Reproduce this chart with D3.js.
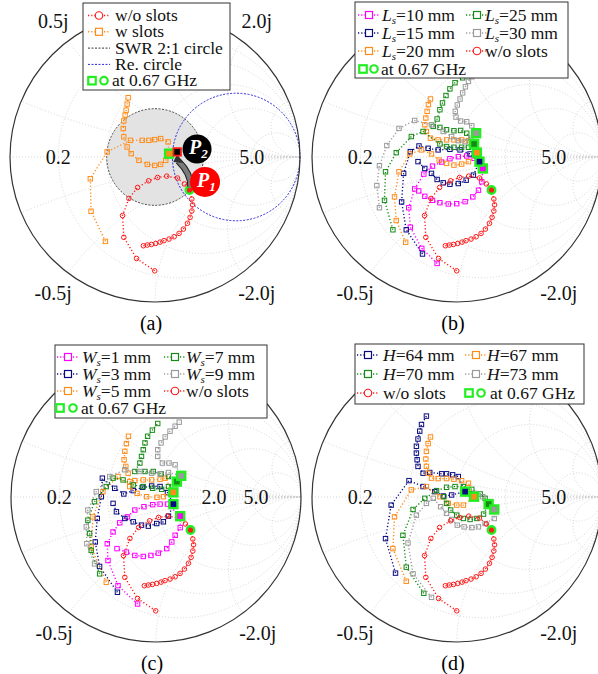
<!DOCTYPE html>
<html>
<head>
<meta charset="utf-8">
<script src="https://cdn.jsdelivr.net/npm/d3@7"></script>
<style>
  body { margin: 0; background: #fff; }
  svg { display: block; font-family: "Liberation Serif", "Times New Roman", serif; }
</style>
</head>
<body>
<div id="chart"></div>
<script>
// Reflection coefficient points [Re(G), Im(G)]
const wo = [[-0.080,-0.612],[-0.053,-0.607],[-0.025,-0.603],[0.005,-0.596],[0.035,-0.587],[0.062,-0.577],
  [0.097,-0.566],[0.132,-0.550],[0.166,-0.527],[0.196,-0.497],[0.224,-0.457],[0.242,-0.416],[0.254,-0.372],
  [0.259,-0.330],[0.254,-0.290],[0.238,-0.228],[0.203,-0.186],[0.155,-0.145],[0.081,-0.132],[0.018,-0.141],
  [-0.044,-0.164],[-0.120,-0.210],[-0.180,-0.286],[-0.224,-0.404],[-0.215,-0.554],[-0.127,-0.700],[-0.002,-0.785]];
const wSlots = [[-0.342,-0.582],[-0.441,-0.374],[-0.446,-0.150],[-0.330,0.035],[-0.169,0.115],[-0.088,0.115],
  [-0.042,0.115],[-0.002,0.120],[0.039,0.127],[0.090,0.104],[0.097,0.023],[0.074,-0.023],[0.039,-0.051],
  [-0.002,-0.058],[-0.053,-0.051],[-0.111,-0.023],[-0.164,0.023],[-0.192,0.069],[-0.215,0.139],[-0.219,0.196],
  [-0.215,0.249],[-0.206,0.289],[-0.199,0.323],[-0.192,0.365],[-0.185,0.409]];
const p2Point = [0.153, 0.035];

// (b) slot length
const ls10 = [[-0.137,-0.734],[-0.243,-0.630],[-0.322,-0.484],[-0.333,-0.350],[-0.292,-0.220],[-0.229,-0.118],
  [-0.169,-0.063],[-0.106,-0.035],[-0.049,-0.012],[0.009,0.002],[0.067,0.007],[0.118,-0.009],[0.178,-0.079],
  [0.171,-0.171],[0.148,-0.229],[0.109,-0.275],[0.056,-0.308],[-0.002,-0.322],[-0.060,-0.324],[-0.118,-0.315],
  [-0.169,-0.299],[-0.222,-0.271],[-0.264,-0.234]];
const ls15 = [[-0.238,-0.669],[-0.350,-0.502],[-0.382,-0.310],[-0.368,-0.113],[-0.322,0.037],[-0.262,0.076],
  [-0.199,0.060],[-0.130,0.049],[-0.049,0.053],[0.021,0.049],[0.090,0.021],[0.155,-0.032],[0.113,-0.125],
  [0.063,-0.160],[0.009,-0.183],[-0.049,-0.188],[-0.095,-0.178],[-0.137,-0.155],[-0.176,-0.113],[-0.222,-0.079],
  [-0.269,-0.032]];
const ls20 = [[-0.354,-0.588],[-0.419,-0.438],[-0.431,-0.275],[-0.400,-0.102],[-0.326,0.021],[-0.245,0.049],
  [-0.176,0.021],[-0.123,-0.021],[-0.072,-0.044],[-0.021,-0.056],[0.032,-0.049],[0.079,-0.032],[0.137,0.030],
  [0.079,0.113],[0.032,0.118],[-0.021,0.118],[-0.072,0.118],[-0.130,0.118],[-0.183,0.130],[-0.211,0.176],
  [-0.222,0.222],[-0.215,0.269],[-0.206,0.315],[-0.197,0.361],[-0.183,0.400]];
const ls25 = [[-0.442,-0.502],[-0.500,-0.299],[-0.493,-0.102],[-0.419,0.030],[-0.315,0.141],[-0.234,0.176],
  [-0.118,0.090],[-0.072,0.072],[-0.021,0.067],[0.032,0.067],[0.079,0.067],[0.118,0.090],[0.067,0.164],
  [0.025,0.183],[-0.021,0.181],[-0.072,0.188],[-0.118,0.204],[-0.164,0.211],[-0.137,0.262],[-0.118,0.326],
  [-0.100,0.373],[-0.076,0.424],[-0.049,0.470],[-0.014,0.512],[0.039,0.546]];
const ls30 = [[-0.535,-0.350],[-0.553,-0.197],[-0.535,-0.060],[-0.484,0.079],[-0.400,0.197],[-0.292,0.252],
  [-0.176,0.222],[-0.095,0.176],[-0.037,0.141],[0.009,0.113],[0.056,0.106],[0.095,0.130],[0.132,0.164],
  [0.102,0.215],[0.067,0.243],[0.025,0.248],[-0.007,0.275],[-0.012,0.315],[0.002,0.359],[0.021,0.400],
  [0.039,0.442],[0.058,0.484],[0.079,0.521],[0.102,0.553]];

// (c) slot width
const ws1 = [[-0.127,-0.738],[-0.262,-0.611],[-0.331,-0.438],[-0.336,-0.322],[-0.296,-0.241],[-0.250,-0.178],
  [-0.197,-0.137],[-0.146,-0.090],[-0.083,-0.067],[-0.023,-0.053],[0.028,-0.049],[0.079,-0.049],[0.167,-0.132],
  [0.167,-0.211],[0.132,-0.264],[0.109,-0.310],[0.074,-0.356],[0.016,-0.387],[-0.035,-0.403],[-0.088,-0.410],
  [-0.146,-0.403],[-0.204,-0.380],[-0.269,-0.356]];
const ws3 = [[-0.266,-0.657],[-0.389,-0.479],[-0.419,-0.310],[-0.405,-0.148],[-0.377,0.002],[-0.370,0.130],
  [-0.285,0.060],[-0.222,0.021],[-0.157,0.044],[-0.093,0.067],[-0.030,0.076],[0.028,0.072],[0.079,0.030],
  [0.120,-0.049],[0.086,-0.132],[0.051,-0.171],[0.005,-0.183],[-0.053,-0.201],[-0.100,-0.194],[-0.157,-0.171],
  [-0.215,-0.148],[-0.273,-0.102],[-0.296,-0.044]];
const ws5 = [[-0.343,-0.588],[-0.447,-0.345],[-0.435,-0.137],[-0.366,0.037],[-0.262,0.141],[-0.181,0.072],
  [-0.130,0.025],[-0.065,0.002],[0.007,-0.002],[0.051,0.002],[0.120,0.032],[0.063,0.130],[0.028,0.123],
  [-0.030,0.118],[-0.088,0.118],[-0.146,0.113],[-0.181,0.106],[-0.192,0.164],[-0.208,0.211],[-0.220,0.257],
  [-0.215,0.315],[-0.204,0.368],[-0.190,0.419]];
const ws7 = [[-0.389,-0.530],[-0.447,-0.368],[-0.458,-0.252],[-0.470,-0.160],[-0.424,-0.032],[-0.343,0.072],
  [-0.296,0.130],[-0.227,0.118],[-0.157,0.083],[-0.088,0.072],[-0.023,0.060],[0.039,0.053],[0.086,0.072],
  [0.144,0.106],[0.086,0.141],[0.035,0.160],[-0.019,0.176],[-0.076,0.176],[-0.146,0.176],[-0.111,0.234],
  [-0.100,0.280],[-0.088,0.326],[-0.076,0.373],[-0.058,0.419],[-0.025,0.461],[0.012,0.507]];
const ws9 = [[-0.424,-0.461],[-0.477,-0.322],[-0.481,-0.206],[-0.470,-0.090],[-0.412,0.037],[-0.319,0.141],
  [-0.215,0.188],[-0.111,0.176],[-0.030,0.164],[0.028,0.160],[0.086,0.169],[0.174,0.146],[0.132,0.222],
  [0.090,0.234],[0.044,0.234],[0.012,0.280],[0.012,0.326],[0.035,0.373],[0.063,0.414],[0.097,0.454],
  [0.132,0.488],[0.160,0.516]];

// (d) substrate height
const h64 = [[-0.424,-0.525],[-0.493,-0.287],[-0.454,-0.056],[-0.331,0.113],[-0.234,0.072],[-0.153,0.037],
  [-0.095,0.007],[-0.037,0.014],[0.056,0.037],[0.009,0.141],[-0.030,0.153],[-0.072,0.160],[-0.106,0.160],
  [-0.188,0.169],[-0.234,0.164],[-0.269,0.211],[-0.275,0.257],[-0.280,0.303],[-0.280,0.350],[-0.269,0.400],
  [-0.257,0.454],[-0.245,0.500],[-0.211,0.558]];
const h67 = [[-0.350,-0.581],[-0.442,-0.356],[-0.431,-0.137],[-0.315,0.049],[-0.211,0.072],[-0.118,0.002],
  [-0.060,-0.044],[-0.002,-0.056],[0.044,-0.056],[0.118,0.002],[0.079,0.095],[0.032,0.113],[-0.021,0.123],
  [-0.072,0.127],[-0.130,0.127],[-0.176,0.130],[-0.199,0.164],[-0.211,0.211],[-0.215,0.262],[-0.211,0.315],
  [-0.199,0.368],[-0.183,0.414]];
const h70 = [[-0.229,-0.664],[-0.350,-0.484],[-0.373,-0.264],[-0.303,-0.086],[-0.222,-0.009],[-0.141,0.044],
  [-0.072,0.067],[-0.014,0.072],[0.044,0.072],[0.102,0.053],[0.160,0.021],[0.194,-0.009],[0.218,-0.049],
  [0.183,-0.118],[0.137,-0.148],[0.090,-0.155],[0.044,-0.148],[-0.002,-0.125],[-0.044,-0.090],[-0.072,-0.044],
  [-0.090,0.002]];
const h73 = [[-0.176,-0.692],[-0.303,-0.530],[-0.338,-0.317],[-0.280,-0.125],[-0.211,-0.044],[-0.164,-0.009],
  [-0.113,-0.067],[-0.072,-0.113],[-0.037,-0.155],[0.002,-0.194],[0.049,-0.206],[0.102,-0.211],[0.148,-0.206],
  [0.194,-0.183],[0.257,-0.148],[0.257,-0.086],[0.225,-0.032],[0.178,0.002],[0.125,0.025]];

// index of the 0.67 GHz sample in each trace
const markAt = { wo: 15, wSlots: 10, ls10: 12, ls15: 11, ls20: 12, ls25: 11, ls30: 12,
  ws1: 12, ws3: 13, ws5: 10, ws7: 13, ws9: 11, h64: 8, h67: 9, h70: 12, h73: 15 };

const gridR = [0.2, 0.5, 1, 2, 5];
const gridX = [0.2, 0.5, 1, 2, 5];

const red = "#ff1a1a", orange = "#ff8c1a", magenta = "#ff00ff", navy = "#0a0a80",
      green = "#168a16", grey = "#9a9a9a", lime = "#22ee22";

const W = 598, H = 674, R = 145;
const svg = d3.select("#chart").append("svg").attr("width", W).attr("height", H);
const defs = svg.append("defs");

const panels = [
  { id: "a", cx: 155, cy: 157, tag: "(a)", top: true, realLabels: [["0.2", -0.667], ["5.0", 0.667]],
    series: [[wSlots, orange, "sq", markAt.wSlots], [wo, red, "ci", markAt.wo]] },
  { id: "b", cx: 457, cy: 157, tag: "(b)", top: false, realLabels: [["0.2", -0.667], ["5.0", 0.667]],
    series: [[ls10, magenta, "sq", markAt.ls10], [ls15, navy, "sq", markAt.ls15], [ls20, orange, "sq", markAt.ls20],
             [ls25, green, "sq", markAt.ls25], [ls30, grey, "sq", markAt.ls30], [wo, red, "ci", markAt.wo]] },
  { id: "c", cx: 156, cy: 497, tag: "(c)", top: false, realLabels: [["0.2", -0.667], ["2.0", 0.4], ["5.0", 0.69]],
    series: [[ws1, magenta, "sq", markAt.ws1], [ws3, navy, "sq", markAt.ws3], [ws5, orange, "sq", markAt.ws5],
             [ws7, green, "sq", markAt.ws7], [ws9, grey, "sq", markAt.ws9], [wo, red, "ci", markAt.wo]] },
  { id: "d", cx: 457, cy: 497, tag: "(d)", top: false, realLabels: [["0.2", -0.667], ["5.0", 0.667]],
    series: [[h64, navy, "sq", markAt.h64], [h67, orange, "sq", markAt.h67], [h70, green, "sq", markAt.h70],
             [h73, grey, "sq", markAt.h73], [wo, red, "ci", markAt.wo]] }
];

function marker(g, px, py, color, shape, size, fill, sw) {
  if (shape === "sq") {
    return g.append("rect").attr("x", px - size / 2).attr("y", py - size / 2)
      .attr("width", size).attr("height", size)
      .attr("fill", fill || "none").attr("stroke", color).attr("stroke-width", sw || 1);
  }
  return g.append("circle").attr("cx", px).attr("cy", py).attr("r", size / 2)
    .attr("fill", fill || "none").attr("stroke", color).attr("stroke-width", sw || 1);
}

panels.forEach(p => {
  const x = d3.scaleLinear().domain([-1, 1]).range([p.cx - R, p.cx + R]);
  const y = d3.scaleLinear().domain([-1, 1]).range([p.cy + R, p.cy - R]);
  const rad = v => x(v) - x(0);
  const g = svg.append("g");

  defs.append("clipPath").attr("id", "clip-" + p.id)
    .append("circle").attr("cx", x(0)).attr("cy", y(0)).attr("r", R);

  // Smith grid
  const grid = g.append("g").attr("clip-path", `url(#clip-${p.id})`)
    .attr("fill", "none").attr("stroke", "#cccccc").attr("stroke-width", 0.8).attr("stroke-dasharray", "1,2");
  gridR.forEach(r => grid.append("circle").attr("cx", x(r / (1 + r))).attr("cy", y(0)).attr("r", rad(1 / (1 + r))));
  gridX.forEach(v => [1, -1].forEach(s =>
    grid.append("circle").attr("cx", x(1)).attr("cy", y(s / v)).attr("r", rad(1 / v))));
  grid.append("line").attr("x1", x(-1)).attr("x2", x(1)).attr("y1", y(0)).attr("y2", y(0));

  if (p.id === "a") {
    g.append("circle").attr("cx", x(0)).attr("cy", y(0)).attr("r", rad(1 / 3))
      .attr("fill", "#e3e3e3").attr("stroke", "#444").attr("stroke-width", 1).attr("stroke-dasharray", "2,1.5");
    g.append("circle").attr("cx", x(0.56)).attr("cy", y(0)).attr("r", rad(0.44))
      .attr("fill", "none").attr("stroke", "#2b2bdd").attr("stroke-width", 1).attr("stroke-dasharray", "2,1.5");
  }

  // outer circle
  g.append("circle").attr("cx", x(0)).attr("cy", y(0)).attr("r", R)
    .attr("fill", "none").attr("stroke", "#333").attr("stroke-width", 1.2);

  const line = d3.line().x(d => x(d[0])).y(d => y(d[1]));
  p.series.forEach(([pts, color, shape]) => {
    g.append("path").datum(pts).attr("d", line).attr("fill", "none")
      .attr("stroke", color).attr("stroke-width", 1.4).attr("stroke-dasharray", "1.2,2.2");
    pts.forEach(d => marker(g, x(d[0]), y(d[1]), color, shape, shape === "sq" ? 4.4 : 4.6));
  });

  // 0.67 GHz highlights
  p.series.forEach(([pts, color, shape, k]) => {
    const d = pts[k];
    marker(g, x(d[0]), y(d[1]), lime, shape, shape === "sq" ? 8 : 7.5, color, 2.4);
  });

  if (p.id === "a") {
    const s = wo[markAt.wo], e = p2Point;
    const x1 = x(s[0]) + 1, y1 = y(s[1]) - 3, x2 = x(e[0]) + 1, y2 = y(e[1]) + 9;
    const path = `M${x1},${y1} Q${(x1 + x2) / 2 + 7},${(y1 + y2) / 2} ${x2},${y2}`;
    g.append("path").attr("d", path).attr("fill", "none").attr("stroke", "#222").attr("stroke-width", 6.5);
    g.append("path").attr("d", path).attr("fill", "none").attr("stroke", "#7a7a7a").attr("stroke-width", 4.5);
    g.append("path").attr("d", `M${x2 - 5},${y2 + 1} L${x2 + 5},${y2 + 2} L${x2 - 1},${y2 - 7} Z`)
      .attr("fill", "#333");
    marker(g, x(e[0]), y(e[1]), red, "sq", 7.5, "#000", 1.8);

    [["2", [0.29, 0.055], "#000", 14.5], ["1", [0.345, -0.172], "#ff0000", 15]].forEach(([n, c, col, r]) => {
      g.append("circle").attr("cx", x(c[0])).attr("cy", y(c[1])).attr("r", r).attr("fill", col);
      const t = g.append("text").attr("x", x(c[0]) - 8).attr("y", y(c[1]) + 5)
        .attr("fill", "#fff").attr("font-size", 20).attr("font-style", "italic").attr("font-weight", "bold");
      t.append("tspan").text("P");
      t.append("tspan").attr("font-size", 13).attr("dy", 4).text(n);
    });
  }

  // axis labels (the upper ones sit under the legend in b, c, d)
  const lab = g.append("g").attr("font-size", 20).attr("fill", "#111")
    .attr("text-anchor", "middle").attr("dominant-baseline", "central");
  const jLabels = [["-0.5j", -0.6, -0.8], ["-2.0j", 0.6, -0.8]];
  if (p.top) jLabels.push(["0.5j", -0.6, 0.8], ["2.0j", 0.6, 0.8]);
  jLabels.forEach(([t, gx, gy]) =>
    lab.append("text").attr("x", x(gx * 1.17)).attr("y", y(gy * 1.17)).text(t));
  p.realLabels.forEach(([t, gx]) => lab.append("text").attr("x", x(gx)).attr("y", y(0)).text(t));

  g.append("text").attr("x", p.cx - 4).attr("y", p.cy + R + 28).attr("text-anchor", "middle")
    .attr("font-size", 20).text(p.tag);
});

// legends
function rich(t, parts) {
  parts.forEach(([s, st]) => {
    const ts = t.append("tspan").text(s);
    if (st === "i") ts.attr("font-style", "italic");
    if (st === "sub") ts.attr("font-style", "italic").attr("font-size", 11).attr("dy", 3);
    if (st === "up") ts.attr("dy", -3);
  });
}

function legend(box, rows) {
  const g = svg.append("g");
  g.append("rect").attr("x", box[0]).attr("y", box[1]).attr("width", box[2] - box[0]).attr("height", box[3] - box[1])
    .attr("fill", "#fff").attr("stroke", "#333").attr("stroke-width", 1);
  rows.forEach(r => {
    if (r.type === "at") {
      marker(g, r.sq, r.y, lime, "sq", 7.5, "none", 2.2);
      marker(g, r.ci, r.y, lime, "ci", 7.5, "none", 2.2);
    } else {
      g.append("line").attr("x1", r.m - 11).attr("x2", r.m + 11).attr("y1", r.y).attr("y2", r.y)
        .attr("stroke", r.color).attr("stroke-width", r.shape ? 1.4 : 1)
        .attr("stroke-dasharray", r.shape ? "1.2,2" : "2,1.5");
      if (r.shape) marker(g, r.m, r.y, r.color, r.shape, r.shape === "sq" ? 7 : 7.5, "#fff", 1.2);
    }
    const t = g.append("text").attr("x", r.tx).attr("y", r.y + 5.5).attr("font-size", 17.5).attr("fill", "#111");
    rich(t, r.label);
  });
}

const at = [["at 0.67 GHz"]];
const sub = (a, s, rest) => [[a, "i"], [s, "sub"], [rest, "up"]];

legend([83, 3, 230, 90], [
  { y: 15.5, m: 99, tx: 115, color: red, shape: "ci", label: [["w/o slots"]] },
  { y: 31.8, m: 99, tx: 115, color: orange, shape: "sq", label: [["w slots"]] },
  { y: 48.1, m: 99, tx: 115, color: "#333", label: [["SWR 2:1 circle"]] },
  { y: 64.4, m: 99, tx: 115, color: "#2b2bdd", label: [["Re. circle"]] },
  { y: 80.7, type: "at", sq: 92, ci: 104, tx: 112, label: at }
]);

legend([355, 2, 568, 78], [
  { y: 15, m: 369, tx: 382, color: magenta, shape: "sq", label: sub("L", "s", "=10 mm") },
  { y: 33, m: 369, tx: 382, color: navy, shape: "sq", label: sub("L", "s", "=15 mm") },
  { y: 51, m: 369, tx: 382, color: orange, shape: "sq", label: sub("L", "s", "=20 mm") },
  { y: 69, type: "at", sq: 363, ci: 374, tx: 381, label: at },
  { y: 15, m: 477, tx: 485, color: green, shape: "sq", label: sub("L", "s", "=25 mm") },
  { y: 33, m: 477, tx: 485, color: grey, shape: "sq", label: sub("L", "s", "=30 mm") },
  { y: 51, m: 477, tx: 485, color: red, shape: "ci", label: [["w/o slots"]] }
]);

legend([55, 345, 267, 418], [
  { y: 357, m: 68, tx: 82, color: magenta, shape: "sq", label: sub("W", "s", "=1 mm") },
  { y: 374, m: 68, tx: 82, color: navy, shape: "sq", label: sub("W", "s", "=3 mm") },
  { y: 391, m: 68, tx: 82, color: orange, shape: "sq", label: sub("W", "s", "=5 mm") },
  { y: 408, type: "at", sq: 60, ci: 73, tx: 81, label: at },
  { y: 357, m: 175, tx: 186, color: green, shape: "sq", label: sub("W", "s", "=7 mm") },
  { y: 374, m: 175, tx: 186, color: grey, shape: "sq", label: sub("W", "s", "=9 mm") },
  { y: 391, m: 175, tx: 186, color: red, shape: "ci", label: [["w/o slots"]] }
]);

legend([355, 344, 584, 404], [
  { y: 355, m: 368, tx: 383, color: navy, shape: "sq", label: [["H", "i"], ["=64 mm"]] },
  { y: 374, m: 368, tx: 383, color: green, shape: "sq", label: [["H", "i"], ["=70 mm"]] },
  { y: 393, m: 368, tx: 383, color: red, shape: "ci", label: [["w/o slots"]] },
  { y: 355, m: 476, tx: 487, color: orange, shape: "sq", label: [["H", "i"], ["=67 mm"]] },
  { y: 374, m: 476, tx: 487, color: grey, shape: "sq", label: [["H", "i"], ["=73 mm"]] },
  { y: 393, type: "at", sq: 469, ci: 481, tx: 490, label: at }
]);
</script>
</body>
</html>
